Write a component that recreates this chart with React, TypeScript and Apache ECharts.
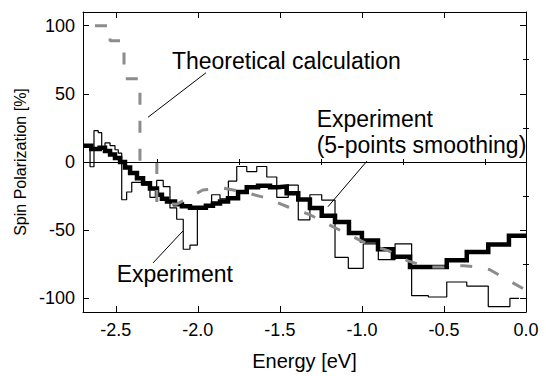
import React, { useEffect, useRef } from "react";
import * as echarts from "echarts";

// ---- axis ticks ----
const xTicks = [-2.5, -2.0, -1.5, -1.0, -0.5, 0.0];
const xMinorTicks = [-2.25, -1.75, -1.25, -0.75, -0.25];
const yTicks = [-100, -50, 0, 50, 100];
const yMinorTicks = [-75, -25, 25, 75];

// ---- Experiment (raw, thin histogram): bin edges [eV] and values [%] ----
const expEdges = [
  -2.7, -2.657, -2.633, -2.607, -2.586, -2.566, -2.535, -2.505, -2.485, -2.464,
  -2.434, -2.403, -2.342, -2.292, -2.251, -2.211, -2.17, -2.129, -2.089, -2.048,
  -2.003, -1.956, -1.916, -1.865, -1.814, -1.763, -1.702, -1.641, -1.58, -1.519,
  -1.449, -1.388, -1.317, -1.245, -1.164, -1.083, -0.992, -0.9, -0.798, -0.697,
  -0.595, -0.483, -0.361, -0.23, -0.098, -0.043, 0.0,
];
const expValues = [
  11, -3.5, 23, 21.5, 10, 14, 12, 9, 6.5, -27.7,
  -22, -15, -17, -26, -13.5, -18, -33.7, -42, -64, -61,
  -33, -33, -24, -27, -14, -3.3, -7, -3.3, -11, -26,
  -17, -42.5, -24, -28, -70, -78, -60, -71.6, -60, -98,
  -99, -88, -91, -106, -100,
];

// ---- Experiment (5-points smoothing, thick) ----
const smoothEdges = [
  -2.7, -2.649, -2.598, -2.566, -2.535, -2.505, -2.474, -2.444, -2.413, -2.371,
  -2.334, -2.292, -2.249, -2.219, -2.188, -2.139, -2.097, -2.048, -2.0, -1.951,
  -1.908, -1.865, -1.816, -1.755, -1.702, -1.633, -1.56, -1.512, -1.459, -1.388,
  -1.317, -1.245, -1.164, -1.079, -1.0, -0.902, -0.811, -0.707, -0.483, -0.361,
  -0.23, -0.104, 0.0,
];
const smoothValues = [
  12, 9.5, 10.5, 8, 5.5, 3, 0, -4, -8, -12,
  -15.5, -19.5, -24, -27, -29, -31, -32.5, -33.5, -33.5, -32,
  -30.5, -29, -26.5, -22, -18.5, -17.5, -18.5, -18, -23, -27.5,
  -33.7, -39.5, -44, -52, -57.5, -64, -69.5, -77, -72, -66,
  -60.5, -54,
];

// ---- Theoretical calculation (null = gap in the line) ----
const theoryE = [
  -2.7, -2.535, -2.535, -2.45, -2.45, -2.353, -2.353, null,
  -2.25, -2.25, -2.13, -2.06, -1.97, -1.85, -1.72, -1.58, -1.45, -1.32,
  -1.21, -1.09, -0.97, -0.84, -0.72, -0.6, -0.5, -0.38, -0.3, -0.22,
  -0.12, 0.0,
];
const theoryP = [
  100, 100, 89, 89, 61, 61, 0, null,
  0, -30, -31, -26.5, -20.5, -19, -22, -26.5, -33, -38.5,
  -45.5, -52.6, -60, -65, -72.5, -77, -77, -76, -77, -79,
  -86, -94,
];

// ---- annotations (data coordinates) ----
const annotationTexts = [
  { text: "Theoretical calculation", at: [-2.158, 74] },
  { text: "Experiment", at: [-1.276, 31.3] },
  { text: "(5-points smoothing)", at: [-1.276, 12.3] },
  { text: "Experiment", at: [-2.495, -81.9] },
];
const annotationLines = [
  [[-1.95, 65.5], [-2.304, 32.8]],
  [[-0.969, 0.7], [-1.207, -32.8]],
  [[-2.091, -50.6], [-2.273, -74.0]],
];

const FONT = "'Liberation Sans', Arial, Helvetica, sans-serif";

function stepData(edges: number[], values: number[]) {
  const d: number[][] = [];
  for (let i = 0; i < values.length; i++) d.push([edges[i], values[i]]);
  d.push([edges[values.length], values[values.length - 1]]);
  return d;
}

function theorySegments() {
  const segs: number[][][] = [];
  let cur: number[][] = [];
  for (let i = 0; i < theoryE.length; i++) {
    if (theoryE[i] === null || theoryP[i] === null) {
      if (cur.length) segs.push(cur);
      cur = [];
    } else cur.push([theoryE[i] as number, theoryP[i] as number]);
  }
  if (cur.length) segs.push(cur);
  return segs;
}

export default function App() {
  const ref = useRef<HTMLDivElement>(null);
  useEffect(() => {
    document.body.style.margin = "0";
    if (!ref.current) return;
    const chart = echarts.init(ref.current, null, { renderer: "svg" });
    const axisLine = { show: true, onZero: false, lineStyle: { color: "#000", width: 1 } };
    const tickStyle = { color: "#000", width: 1 };
    const xBase = { type: "value", min: -2.7, max: 0, splitLine: { show: false } };
    const yBase = { type: "value", min: -110, max: 110, splitLine: { show: false } };

    const theoryStyle = {
      color: "#8c8c8c",
      width: 3,
      type: [12, 16],
      cap: "butt",
    };

    const segs = theorySegments();
    const series: any[] = [
      {
        type: "line",
        name: "Experiment",
        data: stepData(expEdges, expValues),
        step: "end",
        symbol: "none",
        lineStyle: { color: "#000", width: 1.2 },
        z: 2,
        markLine: {
          silent: true,
          symbol: "none",
          label: { show: false },
          lineStyle: { color: "#000", width: 1, type: "solid" },
          data: [{ yAxis: 0 }],
        },
      },
      {
        type: "line",
        name: "Experiment (5-points smoothing)",
        data: stepData(smoothEdges, smoothValues),
        step: "end",
        symbol: "none",
        lineStyle: { color: "#000", width: 4.5, join: "miter" },
        z: 3,
      },
      ...segs.map((s, i) => ({
        type: "line",
        name: "Theoretical calculation",
        data: s,
        symbol: "none",
        lineStyle: { ...theoryStyle, dashOffset: i === 0 ? 16 : 0 },
        z: 4,
      })),
    ];

    const option: any = {
      animation: false,
      backgroundColor: "#fff",
      textStyle: { fontFamily: FONT, color: "#000" },
      grid: { left: 83, right: 20, top: 12, bottom: 55 },
      xAxis: [
        {
          ...xBase,
          position: "bottom",
          axisLine,
          axisTick: { show: true, inside: true, length: 6, customValues: xTicks, lineStyle: tickStyle },
          axisLabel: {
            customValues: xTicks,
            formatter: (v: number) => v.toFixed(1),
            fontSize: 18,
            color: "#000",
            margin: 9,
            fontFamily: FONT,
          },
          name: "Energy [eV]",
          nameLocation: "middle",
          nameGap: 39,
          nameTextStyle: { fontSize: 20, color: "#000", fontFamily: FONT },
        },
        {
          ...xBase,
          position: "bottom",
          axisLine: { show: false },
          axisTick: { show: true, inside: true, length: 3, customValues: xMinorTicks, lineStyle: tickStyle },
          axisLabel: { show: false },
        },
        {
          ...xBase,
          position: "top",
          axisLine,
          axisTick: { show: true, inside: true, length: 6, customValues: xTicks, lineStyle: tickStyle },
          axisLabel: { show: false },
        },
        {
          ...xBase,
          position: "top",
          axisLine: { show: false },
          axisTick: { show: true, inside: true, length: 3, customValues: xMinorTicks, lineStyle: tickStyle },
          axisLabel: { show: false },
        },
      ],
      yAxis: [
        {
          ...yBase,
          position: "left",
          axisLine,
          axisTick: { show: true, inside: true, length: 6, customValues: yTicks, lineStyle: tickStyle },
          axisLabel: {
            customValues: yTicks,
            fontSize: 18,
            color: "#000",
            margin: 8,
            fontFamily: FONT,
          },
          name: "Spin Polarization [%]",
          nameLocation: "middle",
          nameGap: 47,
          nameTextStyle: { fontSize: 16, color: "#000", fontFamily: FONT },
        },
        {
          ...yBase,
          position: "left",
          axisLine: { show: false },
          axisTick: { show: true, inside: true, length: 3, customValues: yMinorTicks, lineStyle: tickStyle },
          axisLabel: { show: false },
        },
        {
          ...yBase,
          position: "right",
          axisLine,
          axisTick: { show: true, inside: true, length: 6, customValues: yTicks, lineStyle: tickStyle },
          axisLabel: { show: false },
        },
        {
          ...yBase,
          position: "right",
          axisLine: { show: false },
          axisTick: { show: true, inside: true, length: 3, customValues: yMinorTicks, lineStyle: tickStyle },
          axisLabel: { show: false },
        },
      ],
      series,
    };
    chart.setOption(option);

    const px = (p: number[]) =>
      chart.convertToPixel({ xAxisIndex: 0, yAxisIndex: 0 } as any, p) as number[];
    const graphic: any[] = [];
    annotationTexts.forEach((a) => {
      const [x, y] = px(a.at);
      graphic.push({
        type: "text",
        x,
        y,
        z: 10,
        style: {
          text: a.text,
          fill: "#000",
          font: `23px ${FONT}`,
          align: "left",
          verticalAlign: "middle",
        },
      });
    });
    annotationLines.forEach((l) => {
      const [x1, y1] = px(l[0]);
      const [x2, y2] = px(l[1]);
      graphic.push({
        type: "line",
        z: 10,
        shape: { x1, y1, x2, y2 },
        style: { stroke: "#000", lineWidth: 1 },
      });
    });
    chart.setOption({ graphic });

    return () => chart.dispose();
  }, []);
  return (
    <div
      ref={ref}
      style={{ position: "fixed", left: 0, top: 0, width: 546, height: 376, background: "#fff" }}
    />
  );
}
